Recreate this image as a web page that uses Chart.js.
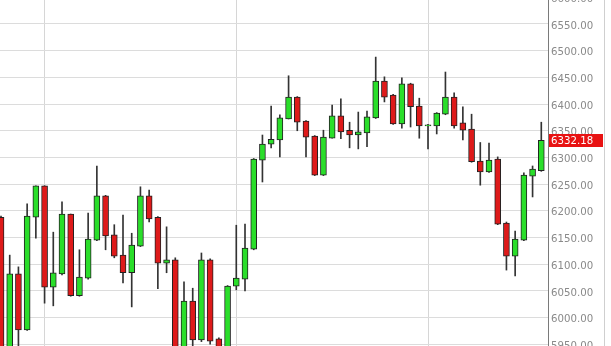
<!DOCTYPE html>
<html><head><meta charset="utf-8">
<script src="https://cdn.jsdelivr.net/npm/chart.js@4/dist/chart.umd.min.js"></script>
<style>
html,body{margin:0;padding:0;background:#fff;overflow:hidden;width:611px;height:346px;}
#wrap{position:absolute;left:0;top:-20px;width:611px;height:386px;}
</style></head><body>
<div id="wrap"><canvas id="c" width="611" height="386"></canvas></div>
<script>
const opens  = [6188,5935,6082,5977,6188,6247,6057,6082,6194,6041,6074,6145,6228,6155,6117,6084,6134,6228,6188,6102,6108,5930,6031,5958,6108,5960,5915,6059,6072,6128,6295,6325,6333,6372,6413,6368,6340,6267,6336,6378,6351,6342,6346,6374,6443,6417,6363,6438,6396,6359,6359,6381,6413,6365,6353,6293,6273,6297,6177,6115,6145,6265,6275];
const highs  = [6190,6117,6095,6213,6247,6247,6160,6217,6194,6127,6196,6284,6229,6174,6192,6158,6245,6239,6189,6170,6112,6067,6055,6121,6110,5962,6060,6173,6175,6298,6342,6396,6380,6453,6414,6369,6341,6351,6398,6410,6366,6385,6387,6488,6451,6418,6449,6439,6411,6362,6384,6460,6421,6395,6381,6328,6327,6301,6179,6162,6271,6284,6366];
const lows   = [5925,5925,5940,5976,6149,6027,6022,6080,6040,6040,6072,6144,6127,6112,6065,6020,6133,6179,6054,6084,5925,5925,5935,5955,5950,5905,5905,6052,6050,6127,6254,6318,6301,6372,6350,6301,6266,6266,6336,6335,6318,6316,6320,6373,6404,6362,6355,6357,6336,6316,6344,6380,6355,6333,6291,6248,6272,6174,6089,6078,6144,6226,6274];
const closes = [5935,6082,5977,6190,6247,6057,6084,6194,6041,6076,6147,6228,6153,6115,6084,6136,6228,6185,6102,6108,5930,6031,5958,6108,5956,5915,6059,6074,6130,6297,6325,6334,6374,6413,6366,6338,6267,6338,6378,6348,6342,6348,6376,6443,6413,6363,6438,6395,6359,6361,6383,6413,6359,6351,6292,6273,6295,6175,6115,6147,6267,6278,6332.18];
const yTicks = [5950,6000,6050,6100,6150,6200,6250,6300,6350,6400,6450,6500,6550,6600];
const periodStarts = [5,27,49];
const lastPrice = closes[closes.length-1];

const UP = '#2ade2a', DOWN = '#de1a1a';
const FONT = '"DejaVu Sans", Verdana, sans-serif';
const bodyData = opens.map((o,i)=>({x:i, y:[o, closes[i]]}));
const wickData = lows.map((l,i)=>({x:i, y:[l, highs[i]]}));
const bodyColors = opens.map((o,i)=> closes[i] >= o ? UP : DOWN);

const priceTag = {
  id:'priceTag',
  afterDraw(chart){
    const ctx = chart.ctx, y = chart.scales.y.getPixelForValue(lastPrice);
    const top = Math.round(y - 6) + 0;
    ctx.save();
    ctx.fillStyle = '#e81212';
    ctx.fillRect(549, top, 54, 13);
    ctx.fillStyle = '#fff';
    ctx.font = '10.2px ' + FONT;
    ctx.textBaseline = 'middle';
    ctx.fillText(lastPrice.toFixed(2), 551, top + 7);
    ctx.strokeStyle = '#cfcfcf';
    ctx.lineWidth = 1;
    ctx.beginPath(); ctx.moveTo(604.5, 0); ctx.lineTo(604.5, chart.height); ctx.stroke();
    ctx.restore();
  }
};

new Chart(document.getElementById('c'), {
  type:'bar',
  data:{ datasets:[
    { data: bodyData, backgroundColor: bodyColors, borderColor:'#222', borderWidth:1, borderSkipped:false, barThickness:6, grouped:false },
    { data: wickData, backgroundColor:'#333', borderWidth:0, barThickness:1, grouped:false }
  ]},
  options:{
    responsive:false, animation:false,
    layout:{padding:0},
    plugins:{legend:{display:false}, tooltip:{enabled:false}},
    scales:{
      x:{ type:'linear', min:-0.115, max:62.77, offset:false, bounds:'data',
          afterBuildTicks:s=>{ s.ticks = periodStarts.map(v=>({value:v})); },
          afterFit:s=>{ s.height=0; s.paddingLeft=0; s.paddingRight=0; },
          ticks:{display:false}, border:{display:false},
          grid:{color:'#d6d6d6', drawTicks:false, offset:false} },
      y:{ position:'right', min:5909.3, max:6632.4,
          afterBuildTicks:s=>{ s.ticks = yTicks.map(v=>({value:v})); },
          afterFit:s=>{ s.width=63; s.paddingTop=0; s.paddingBottom=0; },
          ticks:{ callback:v=>Number(v).toFixed(2), color:'#8a8a8a', padding:3, labelOffset:2,
                  font:{family:FONT, size:10.2} },
          border:{display:true, color:'#7a7a7a', width:1},
          grid:{color:'#dcdcdc', drawTicks:false} }
    }
  },
  plugins:[priceTag]
});
</script>
</body></html>
